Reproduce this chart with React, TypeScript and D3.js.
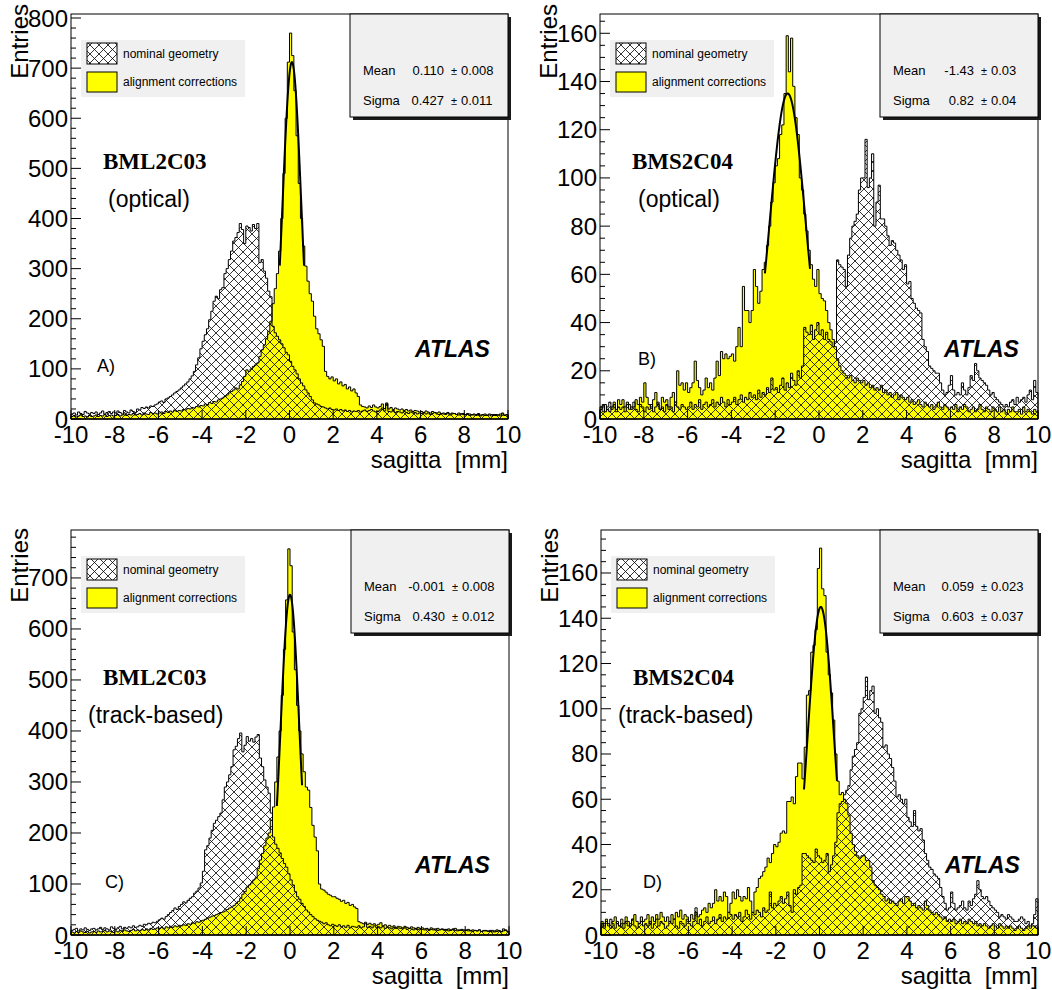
import React from "react";
import * as d3 from "d3";

// ---------------- data ----------------
const X_MIN = -10;
const X_MAX = 10;
const BIN_WIDTH = 0.1;
const xTickValues = [-10, -8, -6, -4, -2, 0, 2, 4, 6, 8, 10];

// Panel A: BML2C03 (optical)
const nominalA = [
  10, 12, 8, 14, 11, 9, 15, 12, 10, 13,
  11, 14, 9, 12, 16, 10, 13, 15, 11, 14,
  12, 16, 13, 10, 17, 14, 12, 18, 15, 13,
  20, 18, 23, 21, 24, 22, 26, 25, 28, 30,
  34, 36, 33, 40, 42, 45, 48, 52, 55, 58,
  62, 66, 70, 74, 80, 86, 95, 108, 122, 140,
  155, 168, 180, 198, 215, 235, 245, 240, 258, 262,
  290, 300, 318, 335, 355, 362, 372, 390, 378, 350,
  385, 382, 375, 388, 380, 390, 312, 318, 295, 281,
  255, 244, 185, 172, 165, 158, 150, 142, 133, 128,
  115, 105, 98, 90, 80, 72, 66, 58, 52, 45,
  38, 32, 30, 28, 25, 24, 22, 20, 22, 19,
  18, 20, 17, 19, 16, 18, 15, 17, 14, 16,
  15, 17, 14, 16, 18, 15, 17, 19, 16, 14,
  15, 18, 22, 16, 30, 15, 14, 17, 13, 15,
  14, 12, 15, 13, 11, 14, 12, 13, 10, 12,
  11, 13, 10, 12, 9, 11, 13, 10, 9, 11,
  10, 9, 12, 8, 10, 11, 9, 8, 10, 9,
  8, 10, 7, 9, 8, 7, 9, 6, 8, 7,
  7, 8, 6, 9, 7, 8, 6, 10, 7, 8,
];
const alignA = [
  5, 7, 4, 6, 8, 5, 6, 4, 7, 5,
  6, 8, 5, 7, 6, 9, 5, 7, 8, 6,
  7, 9, 6, 8, 10, 7, 9, 8, 11, 8,
  9, 11, 8, 12, 10, 9, 13, 11, 12, 10,
  12, 14, 11, 15, 13, 16, 14, 18, 15, 17,
  16, 19, 18, 21, 20, 23, 22, 25, 24, 27,
  26, 30, 28, 33, 31, 35, 34, 38, 40, 42,
  45, 48, 52, 55, 58, 62, 60, 68, 75, 85,
  98, 95, 100, 105, 108, 112, 125, 138, 148, 160,
  175, 195, 230, 260, 290, 335, 400, 490, 600, 712,
  770, 725, 655, 565, 470, 400, 345, 305, 275, 250,
  235, 205, 180, 170, 158, 145, 95, 85, 80, 84,
  76, 80, 70, 74, 66, 69, 60, 64, 56, 60,
  52, 45, 28, 25, 24, 22, 26, 23, 28, 24,
  22, 25, 30, 21, 32, 20, 23, 19, 22, 20,
  18, 20, 17, 19, 16, 18, 15, 17, 16, 14,
  15, 13, 16, 14, 12, 15, 13, 12, 14, 11,
  12, 11, 13, 10, 12, 11, 9, 12, 10, 11,
  9, 11, 10, 8, 10, 9, 11, 8, 9, 10,
  8, 10, 9, 7, 9, 8, 10, 12, 8, 9,
];

// Panel B: BMS2C04 (optical)
const nominalB = [
  4, 6, 3, 5, 7, 4, 6, 3, 5, 4,
  5, 3, 6, 4, 5, 7, 4, 3, 6, 5,
  3, 5, 4, 6, 3, 5, 7, 4, 5, 3,
  6, 4, 5, 3, 7, 5, 4, 6, 5, 4,
  5, 7, 4, 6, 5, 8, 4, 6, 7, 5,
  6, 8, 5, 7, 6, 9, 7, 5, 8, 6,
  7, 9, 6, 8, 10, 7, 9, 8, 11, 9,
  10, 8, 12, 9, 11, 10, 13, 11, 17, 12,
  13, 11, 14, 17, 12, 15, 13, 19, 16, 14,
  20, 17, 22, 38, 36, 35, 39, 33, 37, 40,
  35, 37, 33, 36, 33, 32, 30, 32, 66, 64,
  63, 62, 55, 68, 75, 80, 82, 85, 95, 100,
  100, 116, 96, 100, 110, 80, 90, 97, 83, 83,
  80, 76, 72, 74, 73, 70, 68, 66, 62, 64,
  56, 57, 50, 48, 46, 45, 44, 33, 30, 28,
  22, 21, 20, 19, 19, 15, 12, 10, 11, 14,
  18, 12, 10, 11, 10, 15, 12, 10, 13, 18,
  16, 23, 20, 17, 16, 15, 14, 12, 10, 11,
  9, 8, 7, 6, 5, 6, 5, 7, 8, 6,
  9, 7, 8, 9, 7, 10, 12, 8, 16, 11,
];
const alignB = [
  5, 3, 6, 4, 3, 5, 7, 4, 8, 6,
  8, 5, 7, 6, 4, 5, 8, 6, 9, 7,
  15, 9, 6, 5, 8, 11, 6, 4, 9, 7,
  8, 5, 9, 11, 7, 20, 14, 15, 12, 15,
  11, 13, 15, 24, 16, 13, 10, 12, 17, 13,
  15, 12, 17, 24, 18, 28, 25, 27, 25, 26,
  27, 24, 30, 38, 30, 55, 45, 45, 40, 45,
  62, 55, 48, 53, 62, 65, 72, 80, 90, 98,
  105, 108, 118, 122, 135, 159, 144, 158, 138, 125,
  118, 100, 95, 85, 78, 70, 64, 58, 55, 62,
  52, 50, 49, 45, 40, 37, 33, 30, 25, 22,
  20, 19, 18, 17, 18, 16, 15, 17, 16, 15,
  16, 14, 15, 13, 14, 12, 13, 12, 14, 11,
  12, 10, 11, 9, 10, 11, 8, 10, 9, 8,
  9, 7, 8, 6, 7, 8, 6, 5, 7, 6,
  5, 6, 4, 5, 7, 5, 4, 6, 5, 4,
  5, 4, 6, 3, 5, 4, 6, 5, 3, 4,
  5, 3, 4, 6, 4, 3, 5, 4, 3, 5,
  4, 3, 5, 3, 4, 2, 4, 3, 5, 3,
  3, 4, 2, 5, 3, 4, 3, 2, 4, 3,
];

// Panel C: BML2C03 (track-based)
const nominalC = [
  9, 11, 13, 8, 12, 10, 14, 11, 9, 12,
  13, 10, 12, 15, 11, 14, 12, 10, 16, 13,
  11, 14, 17, 12, 15, 13, 16, 14, 18, 15,
  16, 19, 17, 21, 20, 23, 22, 25, 24, 27,
  30, 33, 31, 36, 40, 44, 48, 53, 50, 56,
  60, 65, 63, 68, 72, 75, 82, 86, 92, 102,
  125, 167, 175, 190, 205, 219, 225, 232, 239, 265,
  290, 300, 314, 330, 363, 370, 385, 396, 359, 372,
  389, 380, 385, 378, 388, 393, 347, 330, 304, 290,
  278, 239, 192, 178, 170, 161, 150, 140, 133, 120,
  108, 98, 85, 75, 70, 62, 56, 49, 45, 40,
  36, 32, 29, 27, 25, 22, 24, 20, 18, 21,
  19, 17, 20, 16, 18, 15, 19, 14, 17, 16,
  15, 18, 14, 16, 22, 15, 17, 14, 18, 15,
  16, 14, 17, 13, 15, 14, 12, 15, 13, 14,
  13, 12, 14, 11, 13, 12, 10, 13, 11, 12,
  11, 10, 12, 9, 11, 10, 12, 9, 10, 11,
  9, 11, 8, 10, 12, 9, 8, 10, 9, 8,
  10, 8, 9, 7, 9, 8, 10, 7, 8, 9,
  7, 9, 6, 8, 7, 9, 6, 8, 10, 7,
];
const alignC = [
  6, 4, 7, 5, 8, 6, 5, 7, 4, 6,
  7, 5, 8, 6, 7, 9, 6, 8, 7, 5,
  8, 6, 9, 7, 10, 8, 7, 9, 11, 8,
  10, 8, 11, 9, 12, 10, 13, 11, 12, 14,
  13, 15, 12, 16, 14, 17, 15, 18, 16, 19,
  18, 20, 19, 22, 21, 24, 23, 26, 25, 28,
  29, 31, 33, 35, 37, 38, 40, 42, 44, 45,
  47, 50, 53, 55, 58, 62, 66, 72, 80, 85,
  94, 98, 102, 108, 112, 130, 147, 160, 175, 190,
  200, 225, 251, 300, 349, 400, 470, 560, 657, 757,
  724, 594, 520, 450, 400, 355, 320, 290, 284, 250,
  215, 192, 165, 100, 90, 88, 84, 80, 78, 75,
  75, 72, 70, 66, 68, 62, 64, 58, 60, 55,
  52, 26, 24, 22, 25, 21, 23, 20, 22, 19,
  21, 24, 18, 20, 17, 19, 16, 18, 15, 17,
  16, 14, 17, 15, 13, 16, 14, 12, 15, 13,
  14, 12, 13, 11, 14, 12, 10, 13, 11, 12,
  11, 10, 12, 9, 11, 13, 10, 9, 11, 10,
  9, 11, 8, 10, 9, 8, 10, 7, 9, 8,
  8, 7, 9, 6, 10, 8, 7, 12, 9, 7,
];

// Panel D: BMS2C04 (track-based)
const nominalD = [
  5, 3, 6, 4, 7, 5, 3, 6, 4, 5,
  3, 6, 4, 5, 7, 4, 3, 5, 6, 4,
  5, 4, 6, 3, 5, 7, 4, 6, 5, 3,
  4, 6, 5, 7, 4, 3, 6, 5, 4, 7,
  5, 4, 6, 12, 5, 7, 4, 6, 8, 5,
  6, 8, 5, 7, 9, 6, 8, 7, 10, 9,
  7, 9, 8, 10, 6, 8, 11, 9, 7, 10,
  9, 11, 10, 8, 12, 10, 11, 19, 12, 14,
  13, 15, 17, 14, 16, 19, 13, 10, 20, 18,
  21, 22, 36, 36, 35, 34, 33, 32, 38, 35,
  34, 32, 33, 36, 28, 31, 35, 41, 54, 58,
  59, 62, 64, 66, 73, 79, 82, 85, 98, 100,
  105, 114, 104, 108, 110, 98, 100, 96, 94, 83,
  84, 80, 78, 74, 68, 61, 62, 60, 58, 60,
  52, 50, 48, 55, 48, 46, 47, 42, 36, 33,
  30, 29, 27, 26, 25, 21, 17, 14, 11, 12,
  19, 14, 11, 12, 13, 15, 12, 11, 15, 13,
  16, 18, 24, 20, 17, 16, 17, 15, 13, 12,
  11, 10, 8, 9, 8, 7, 9, 8, 7, 6,
  6, 7, 8, 7, 5, 6, 4, 5, 9, 16,
];
const alignD = [
  6, 4, 7, 5, 3, 6, 8, 5, 4, 7,
  5, 8, 6, 4, 7, 9, 6, 5, 8, 6,
  7, 9, 5, 8, 6, 9, 7, 10, 8, 6,
  8, 6, 9, 7, 10, 8, 11, 7, 9, 8,
  6, 9, 7, 10, 8, 9, 11, 12, 10, 14,
  12, 14, 20, 15, 17, 15, 19, 17, 10, 14,
  19, 16, 20, 17, 15, 17, 16, 21, 15, 10,
  19, 21, 25, 26, 28, 30, 34, 32, 36, 40,
  39, 41, 45, 46, 45, 59, 59, 61, 58, 70,
  76, 76, 69, 83, 106, 108, 125, 128, 135, 162,
  171, 153, 150, 125, 115, 107, 95, 80, 68, 62,
  63, 60, 58, 53, 45, 40, 37, 35, 34, 35,
  35, 33, 33, 30, 24, 22, 21, 20, 18, 17,
  15, 16, 14, 15, 14, 13, 15, 16, 14, 17,
  17, 15, 13, 14, 12, 13, 12, 11, 15, 13,
  11, 10, 9, 10, 9, 8, 7, 8, 6, 7,
  6, 7, 5, 6, 7, 5, 6, 5, 7, 6,
  5, 6, 4, 5, 4, 5, 4, 3, 4, 5,
  4, 3, 5, 4, 3, 4, 3, 4, 3, 2,
  3, 4, 3, 2, 3, 4, 3, 4, 4, 3,
];

const nominalSeries = [nominalA, nominalB, nominalC, nominalD];
const alignSeries = [alignA, alignB, alignC, alignD];

const chamberLabels = ["BML2C03", "BMS2C04", "BML2C03", "BMS2C04"];
const methodLabels = ["(optical)", "(optical)", "(track-based)", "(track-based)"];
const letterLabels = ["A)", "B)", "C)", "D)"];
const legendLabels = ["nominal geometry", "alignment corrections"];

const meanValues = ["0.110", "-1.43", "-0.001", "0.059"];
const meanErrors = ["0.008", "0.03", "0.008", "0.023"];
const sigmaValues = ["0.427", "0.82", "0.430", "0.603"];
const sigmaErrors = ["0.011", "0.04", "0.012", "0.037"];

// Gaussian fit parameters (amplitude, mean, sigma, fit range)
const fitAmplitudes = [712, 135, 667, 145];
const fitMeans = [0.11, -1.43, -0.001, 0.059];
const fitSigmas = [0.427, 0.82, 0.43, 0.603];
const fitLow = [-0.445, -2.47, -0.6, -0.71];
const fitHigh = [0.665, -0.41, 0.55, 0.8];

const yMaxValues = [808, 168, 794, 179];
const yMajorSteps = [100, 20, 100, 20];
const yMinorSteps = [20, 5, 20, 5];

// ---------------- layout ----------------
const W = 1052;
const H = 990;
const layouts = [
  { left: 71, right: 508, top: 14, bottom: 419, entriesEnd: 4, methodDx: 37, letterDx: 26, letterDy: 358 },
  { left: 600, right: 1038, top: 14, bottom: 419, entriesEnd: 4, methodDx: 38, letterDx: 38, letterDy: 351 },
  { left: 71, right: 509, top: 530, bottom: 935, entriesEnd: 528, methodDx: 17, letterDx: 34, letterDy: 358 },
  { left: 601, right: 1038, top: 530, bottom: 935, entriesEnd: 528, methodDx: 17, letterDx: 42, letterDy: 358 },
];
const SANS = "'Liberation Sans', Arial, Helvetica, sans-serif";
const SERIF = "'Liberation Serif', 'Times New Roman', serif";
const YELLOW = "#ffff00";
const BOX_FILL = "#f0f0f0";

function Panel({ i }: { i: number }) {
  const L = layouts[i];
  const x = d3.scaleLinear().domain([X_MIN, X_MAX]).range([L.left, L.right]);
  const y = d3.scaleLinear().domain([0, yMaxValues[i]]).range([L.bottom, L.top]);

  const histArea = (vals: number[]) => {
    const pts: [number, number][] = vals.map((v, k) => [X_MIN + k * BIN_WIDTH, v]);
    pts.push([X_MIN + vals.length * BIN_WIDTH, vals[vals.length - 1]]);
    return d3
      .area<[number, number]>()
      .x((d) => x(d[0]))
      .y0(y(0))
      .y1((d) => y(d[1]))
      .curve(d3.curveStepAfter)(pts) as string;
  };

  const gaussPts: [number, number][] = d3
    .range(fitLow[i], fitHigh[i] + 1e-9, 0.005)
    .map((t) => [
      t,
      fitAmplitudes[i] * Math.exp(-((t - fitMeans[i]) ** 2) / (2 * fitSigmas[i] ** 2)),
    ]);
  const gaussPath = d3
    .line<[number, number]>()
    .x((d) => x(d[0]))
    .y((d) => y(d[1]))(gaussPts) as string;

  const yTicks = d3.range(0, yMaxValues[i] + 1e-9, yMinorSteps[i]);
  const boxW = 158;
  const boxH = 103;
  const boxLeft = L.right - boxW;

  return (
    <g>
      {/* histograms */}
      <path d={histArea(alignSeries[i])} fill={YELLOW} stroke="#000" strokeWidth={1} />
      <path d={histArea(nominalSeries[i])} fill="url(#hatch)" stroke="#000" strokeWidth={1} />
      <path d={gaussPath} fill="none" stroke="#000" strokeWidth={2} />

      {/* frame */}
      <rect x={L.left} y={L.top} width={L.right - L.left} height={L.bottom - L.top} fill="none" stroke="#000" strokeWidth={1} />

      {/* y axis ticks */}
      {yTicks.map((v) => {
        const major = Math.abs(v / yMajorSteps[i] - Math.round(v / yMajorSteps[i])) < 1e-6;
        return (
          <g key={"yt" + v}>
            <line x1={L.left} x2={L.left + (major ? 10 : 5)} y1={y(v)} y2={y(v)} stroke="#000" strokeWidth={1} />
            {major && (
              <text x={L.left - 3} y={y(v) + 8.5} textAnchor="end" fontSize={24} fontFamily={SANS}>
                {v}
              </text>
            )}
          </g>
        );
      })}

      {/* x axis ticks */}
      {xTickValues.map((v) => (
        <g key={"xt" + v}>
          <line x1={x(v)} x2={x(v)} y1={L.bottom} y2={L.bottom - 9} stroke="#000" strokeWidth={1} />
          <text x={x(v)} y={L.bottom + 24} textAnchor="middle" fontSize={24} fontFamily={SANS}>
            {v}
          </text>
        </g>
      ))}

      {/* axis titles */}
      <text x={L.right} y={L.bottom + 49} textAnchor="end" fontSize={24} fontFamily={SANS} style={{ whiteSpace: "pre" }}>
        {"sagitta  [mm]"}
      </text>
      <text
        transform={`translate(${L.left - 43},${L.entriesEnd}) rotate(-90)`}
        textAnchor="end"
        fontSize={24}
        fontFamily={SANS}
      >
        Entries
      </text>

      {/* legend */}
      <rect x={L.left + 10} y={L.top + 26} width={164} height={57} fill={BOX_FILL} />
      <rect x={L.left + 16} y={L.top + 29} width={30} height={21} fill="#fff" />
      <rect x={L.left + 16} y={L.top + 29} width={30} height={21} fill="url(#hatch)" stroke="#000" strokeWidth={1} />
      <rect x={L.left + 16} y={L.top + 58} width={30} height={20} fill={YELLOW} stroke="#000" strokeWidth={1} />
      <text x={L.left + 52} y={L.top + 44} fontSize={12} fontFamily={SANS}>
        {legendLabels[0]}
      </text>
      <text x={L.left + 52} y={L.top + 72} fontSize={12} fontFamily={SANS}>
        {legendLabels[1]}
      </text>

      {/* stats box */}
      <rect x={boxLeft + 3} y={L.top + 3} width={boxW} height={boxH} fill="#1a1a1a" />
      <rect x={boxLeft} y={L.top} width={boxW} height={boxH} fill={BOX_FILL} stroke="#000" strokeWidth={1} />
      <text x={boxLeft + 13} y={L.top + 61} fontSize={13} fontFamily={SANS}>Mean</text>
      <text x={boxLeft + 94} y={L.top + 61} fontSize={13} fontFamily={SANS} textAnchor="end">{meanValues[i]}</text>
      <text x={boxLeft + 101} y={L.top + 61} fontSize={11} fontFamily={SANS}>±</text>
      <text x={boxLeft + 111} y={L.top + 61} fontSize={13} fontFamily={SANS}>{meanErrors[i]}</text>
      <text x={boxLeft + 13} y={L.top + 91} fontSize={13} fontFamily={SANS}>Sigma</text>
      <text x={boxLeft + 94} y={L.top + 91} fontSize={13} fontFamily={SANS} textAnchor="end">{sigmaValues[i]}</text>
      <text x={boxLeft + 101} y={L.top + 91} fontSize={11} fontFamily={SANS}>±</text>
      <text x={boxLeft + 111} y={L.top + 91} fontSize={13} fontFamily={SANS}>{sigmaErrors[i]}</text>

      {/* annotations */}
      <text x={L.left + 32} y={L.top + 155} fontSize={23} fontWeight="bold" fontFamily={SERIF}>
        {chamberLabels[i]}
      </text>
      <text x={L.left + L.methodDx} y={L.top + 193} fontSize={23} fontFamily={SANS}>
        {methodLabels[i]}
      </text>
      <text x={L.left + L.letterDx} y={L.top + L.letterDy} fontSize={18} fontFamily={SANS}>
        {letterLabels[i]}
      </text>
      <text x={L.left + 344} y={L.top + 343} fontSize={23} fontWeight="bold" fontStyle="italic" fontFamily={SANS}>
        ATLAS
      </text>
    </g>
  );
}

export default function App() {
  return (
    <svg
      width={W}
      height={H}
      viewBox={`0 0 ${W} ${H}`}
      style={{ position: "absolute", left: 0, top: 0, display: "block", background: "#fff" }}
    >
      <defs>
        <pattern id="hatch" patternUnits="userSpaceOnUse" width={9} height={9}>
          <path d="M-1,-1L10,10M10,-1L-1,10" stroke="#000" strokeWidth={0.8} fill="none" />
        </pattern>
      </defs>
      <rect x={0} y={0} width={W} height={H} fill="#fff" />
      {[0, 1, 2, 3].map((i) => (
        <Panel key={i} i={i} />
      ))}
    </svg>
  );
}
